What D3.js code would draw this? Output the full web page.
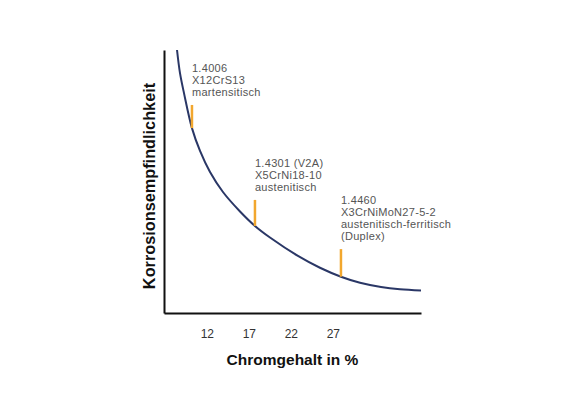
<!DOCTYPE html>
<html>
<head>
<meta charset="utf-8">
<script src="https://cdn.jsdelivr.net/npm/d3@7"></script>
<style>
  html, body { margin: 0; padding: 0; background: #fff; }
  svg { display: block; }
</style>
</head>
<body>
<svg id="chart" width="580" height="399"></svg>
<script>
// Chromgehalt (%) along the curve
const chromX = [8.45, 8.8, 9.28, 10.23, 11.19, 12.38, 13.92, 15.95, 17.73, 19.52, 22.85, 25.47, 27.97, 30.24, 32.74, 35.0, 37.5];
// Korrosionsempfindlichkeit (relative, arbitrary units)
const sensitivity = [100, 91.3, 83.6, 70.3, 61.6, 53.6, 46.0, 38.6, 33.1, 28.7, 21.7, 17.2, 13.8, 11.5, 9.9, 9.05, 8.6];
// x tick labels
const xTicks = [12, 17, 22, 27];
// steel grade markers
const markerX = [10.23, 17.73, 27.97];
const markerBottom = [70.3, 33.1, 13.8];
const markerTop = [79.1, 43.0, 24.3];
const steelLabels = [
  ["1.4006", "X12CrS13", "martensitisch"],
  ["1.4301 (V2A)", "X5CrNi18-10", "austenitisch"],
  ["1.4460", "X3CrNiMoN27-5-2", "austenitisch-ferritisch", "(Duplex)"]
];
const xTitle = "Chromgehalt in %";
const yTitle = "Korrosionsempfindlichkeit";

const svg = d3.select("#chart");
svg.append("rect").attr("width", 580).attr("height", 399).attr("fill", "#fff");

const x = d3.scaleLinear().domain([6.9, 37.5]).range([164, 421]);
const y = d3.scaleLinear().domain([0, 100]).range([313, 50]);

// X axis
const xAxis = svg.append("g")
  .attr("transform", `translate(0,${y(0)})`)
  .call(d3.axisBottom(x).tickValues(xTicks).tickSize(0).tickPadding(16).tickFormat(d3.format("d")));
xAxis.select(".domain").attr("stroke", "#111").attr("stroke-width", 2);
xAxis.selectAll("text")
  .attr("font-family", "Liberation Sans, Arial, sans-serif")
  .attr("font-size", 12).attr("fill", "#333");

// Y axis
const yAxis = svg.append("g")
  .attr("transform", `translate(${x(6.9)},0)`)
  .call(d3.axisLeft(y).tickValues([]).tickSize(0).tickSizeOuter(0));
yAxis.select(".domain").attr("stroke", "#111").attr("stroke-width", 2);

// Curve
const line = d3.line()
  .x((d, i) => x(chromX[i]))
  .y(d => y(d))
  .curve(d3.curveCatmullRom.alpha(0.5));
svg.append("path")
  .datum(sensitivity)
  .attr("d", line)
  .attr("fill", "none")
  .attr("stroke", "#2a3766")
  .attr("stroke-width", 2);

// Markers
svg.selectAll("line.marker")
  .data(markerX)
  .join("line")
  .attr("class", "marker")
  .attr("x1", d => x(d)).attr("x2", d => x(d))
  .attr("y1", (d, i) => y(markerTop[i]))
  .attr("y2", (d, i) => y(markerBottom[i]))
  .attr("stroke", "#f2a72e")
  .attr("stroke-width", 2.5);

// Labels
steelLabels.forEach((lines, i) => {
  const lx = x(markerX[i]);
  const lastY = y(markerTop[i]) - 9;
  const t = svg.append("text")
    .attr("font-family", "Liberation Sans, Arial, sans-serif")
    .attr("font-size", 11)
    .attr("letter-spacing", 0.3)
    .attr("fill", "#555");
  lines.forEach((s, j) => {
    t.append("tspan")
      .attr("x", lx)
      .attr("y", lastY - (lines.length - 1 - j) * 12)
      .text(s);
  });
});

// Axis titles
svg.append("text")
  .attr("x", (x.range()[0] + x.range()[1]) / 2)
  .attr("y", 365)
  .attr("text-anchor", "middle")
  .attr("font-family", "Liberation Sans, Arial, sans-serif")
  .attr("font-weight", "bold")
  .attr("font-size", 15.5)
  .attr("fill", "#111")
  .text(xTitle);

svg.append("text")
  .attr("transform", "translate(154.5,186) rotate(-90)")
  .attr("text-anchor", "middle")
  .attr("font-family", "Liberation Sans, Arial, sans-serif")
  .attr("font-weight", "bold")
  .attr("font-size", 16.3)
  .attr("fill", "#111")
  .text(yTitle);
</script>
</body>
</html>
